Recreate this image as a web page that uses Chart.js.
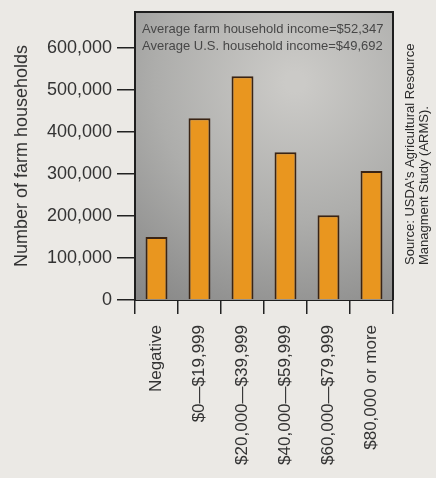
<!DOCTYPE html>
<html>
<head>
<meta charset="utf-8">
<script src="https://cdn.jsdelivr.net/npm/chart.js@4"></script>
<style>
  html, body { margin: 0; padding: 0; background: #ebe9e5; }
  canvas { display: block; }
</style>
</head>
<body>
<canvas id="c" width="436" height="478"></canvas>
<script>
const categories = ["Negative", "$0\u2014$19,999", "$20,000\u2014$39,999", "$40,000\u2014$59,999", "$60,000\u2014$79,999", "$80,000 or more"];
const households = [150000, 433000, 533000, 352000, 202000, 307000];
const yTicks = [0, 100000, 200000, 300000, 400000, 500000, 600000];
const yMax = 686000;
const yTitle = "Number of farm households";
const noteLines = ["Average farm household income=$52,347", "Average U.S. household income=$49,692"];
const sourceLines = ["Source: USDA's Agricultural Resource", "Managment Study (ARMS)."];

const decor = {
  id: 'decor',
  beforeDatasetsDraw(chart) {
    const {ctx, chartArea: a} = chart;
    ctx.save();
    const cx = a.left + (a.right - a.left) * 0.62;
    const g = ctx.createRadialGradient(cx, a.top + 70, 10, cx, a.top + 70, 300);
    g.addColorStop(0, '#cbcac7');
    g.addColorStop(0.45, '#adadab');
    g.addColorStop(1, '#7c7c7c');
    ctx.fillStyle = g;
    ctx.fillRect(a.left, a.top, a.right - a.left, a.bottom - a.top);
    ctx.restore();
  },
  afterDraw(chart) {
    const {ctx, chartArea: a} = chart;
    ctx.save();
    ctx.strokeStyle = '#1e1e1e';
    ctx.lineWidth = 2;
    ctx.beginPath();
    ctx.moveTo(a.left, a.bottom);
    ctx.lineTo(a.left, a.top);
    ctx.lineTo(a.right, a.top);
    ctx.lineTo(a.right, a.bottom);
    ctx.stroke();
    ctx.fillStyle = '#474747';
    ctx.font = '13px "Liberation Sans", Arial, sans-serif';
    ctx.textBaseline = 'alphabetic';
    ctx.textAlign = 'left';
    noteLines.forEach((t, i) => ctx.fillText(t, a.left + 7, a.top + 21 + i * 17));
    ctx.fillStyle = '#2a2a2a';
    ctx.font = '13px "Liberation Sans Narrow", "Arial Narrow", sans-serif';
    sourceLines.forEach((t, i) => {
      ctx.save();
      ctx.translate(a.right + 21 + i * 14, 265);
      ctx.rotate(-Math.PI / 2);
      ctx.textAlign = 'left';
      ctx.fillText(t, 0, 0);
      ctx.restore();
    });
    ctx.restore();
  }
};

new Chart(document.getElementById('c'), {
  type: 'bar',
  data: {
    labels: categories,
    datasets: [{
      data: households,
      backgroundColor: '#e9961f',
      borderColor: '#3a2414',
      borderWidth: 2,
      borderSkipped: 'bottom',
      categoryPercentage: 1,
      barPercentage: 0.51
    }]
  },
  options: {
    responsive: false,
    devicePixelRatio: 1,
    animation: false,
    layout: { padding: { top: 12, right: 43, left: 0, bottom: 0 } },
    plugins: { legend: { display: false }, tooltip: { enabled: false } },
    scales: {
      y: {
        min: 0,
        max: yMax,
        bounds: 'data',
        afterFit(s) { s.width = 135; s.paddingTop = 0; s.paddingBottom = 0; },
        afterBuildTicks(s) { s.ticks = yTicks.map(v => ({ value: v })); },
        ticks: {
          padding: 5,
          color: '#333',
          font: { family: '"Liberation Sans", Arial, sans-serif', size: 18 },
          callback: v => Number(v).toLocaleString('en-US')
        },
        grid: { drawOnChartArea: false, tickLength: 18, color: '#222', lineWidth: 1.5 },
        border: { display: true, color: '#1e1e1e', width: 2 },
        title: {
          display: true,
          text: yTitle,
          color: '#333',
          font: { family: '"Liberation Sans", Arial, sans-serif', size: 18 },
          padding: { top: 11, bottom: 0 }
        }
      },
      x: {
        afterFit(s) { s.height = 178; s.paddingLeft = 0; s.paddingRight = 0; },
        ticks: {
          minRotation: 90,
          maxRotation: 90,
          autoSkip: false,
          padding: 11,
          color: '#333',
          font: { family: '"Liberation Sans", Arial, sans-serif', size: 17 }
        },
        grid: { offset: true, drawOnChartArea: false, tickLength: 14, color: '#222', lineWidth: 1.5 },
        border: { display: true, color: '#1e1e1e', width: 2 }
      }
    }
  },
  plugins: [decor]
});
</script>
</body>
</html>
